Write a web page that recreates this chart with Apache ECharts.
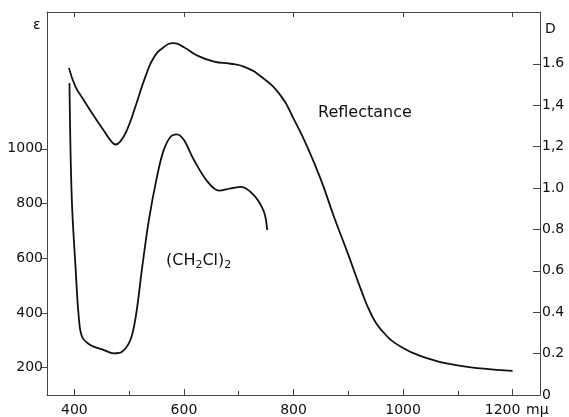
<!DOCTYPE html>
<html>
<head>
<meta charset="utf-8">
<script src="https://cdn.jsdelivr.net/npm/echarts@6/dist/echarts.min.js"></script>
<style>
  html, body { margin: 0; padding: 0; background: #fff; }
  #chart { width: 569px; height: 417px; }
</style>
</head>
<body>
<div id="chart"></div>
<script>
  // wavelength in mu, reflectance as optical density D (right axis)
  var reflWave = [390, 402, 417, 435, 453, 466, 475, 484, 496, 511, 530, 545, 563, 581, 600, 624, 655, 685, 710, 740,
                  777, 801, 825, 850, 874, 899, 923, 941, 960, 996, 1045, 1094, 1142, 1200];
  var reflD = [1.58, 1.49, 1.425, 1.35, 1.28, 1.23, 1.21, 1.225, 1.28, 1.39, 1.54, 1.63, 1.68, 1.70, 1.68, 1.64, 1.61, 1.60, 1.585, 1.54,
               1.445, 1.33, 1.20, 1.04, 0.86, 0.685, 0.51, 0.395, 0.315, 0.233, 0.177, 0.145, 0.129, 0.117];

  // (CH2Cl)2 solution, extinction coefficient (left axis)
  var soluWave = [391, 393, 396, 402, 408, 414, 429, 454, 472, 487, 502, 512, 524, 536, 551, 563, 576, 587, 600, 618,
                  643, 664, 685, 704, 728, 746, 752];
  var soluEps = [1240, 985, 780, 570, 385, 313, 283, 264, 252, 258, 300, 386, 570, 740, 900, 995, 1045, 1053, 1032, 960,
                 880, 847, 855, 861, 830, 770, 703];

  var xMajor = [400, 600, 800, 1000, 1200];
  var xMinor = [500, 700, 900, 1100];
  var epsTicks = [200, 400, 600, 800, 1000];
  var dTicks = [0, 0.2, 0.4, 0.6, 0.8, 1.0, 1.2, 1.4, 1.6];
  var dLabels = ['0', '0.2', '0.4', '0.6', '0.8', '1.0', '1,2', '1,4', '1.6'];

  function pairs(xs, ys) {
    return xs.map(function (x, i) { return [x, ys[i]]; });
  }

  var FONT = 'DejaVu Sans';
  var INK = '#111';
  var FRAME = '#444';

  var chart = echarts.init(document.getElementById('chart'));

  chart.setOption({
    animation: false,
    backgroundColor: '#fff',
    textStyle: { fontFamily: FONT, color: INK },
    grid: { left: 47, right: 29, top: 12, bottom: 22, outerBoundsMode: 'none' },
    xAxis: [
      {
        type: 'value', position: 'bottom', min: 350, max: 1250,
        splitLine: { show: false },
        axisLine: { lineStyle: { color: FRAME, width: 1 } },
        axisTick: { inside: true, length: 6, customValues: xMajor, lineStyle: { color: FRAME } },
        axisLabel: {
          customValues: xMajor, margin: 8, fontSize: 14, color: INK, fontFamily: FONT,
          formatter: function (v) { return v === 1200 ? '{s|1200}' : String(v); },
          rich: { s: { fontSize: 14, fontFamily: FONT, color: INK, padding: [0, 20, 0, 0] } }
        }
      },
      {
        type: 'value', position: 'bottom', min: 350, max: 1250,
        splitLine: { show: false },
        axisLine: { show: false },
        axisTick: { inside: true, length: 4, customValues: xMinor, lineStyle: { color: FRAME } },
        axisLabel: { show: false }
      },
      {
        type: 'value', position: 'top', min: 350, max: 1250,
        splitLine: { show: false },
        axisLine: { lineStyle: { color: FRAME, width: 1 } },
        axisTick: { inside: true, length: 5, customValues: xMajor, lineStyle: { color: FRAME } },
        axisLabel: { show: false }
      }
    ],
    yAxis: [
      {
        type: 'value', position: 'left', min: 100, max: 1500,
        splitLine: { show: false },
        axisLine: { show: true, lineStyle: { color: FRAME, width: 1 } },
        axisTick: { show: true, length: 6, customValues: epsTicks, lineStyle: { color: FRAME } },
        axisLabel: {
          customValues: epsTicks, margin: 4, fontSize: 14, color: INK, fontFamily: FONT,
          formatter: function (v) { return String(v); }
        }
      },
      {
        type: 'value', position: 'right', min: 0, max: 1.85,
        splitLine: { show: false },
        axisLine: { show: true, lineStyle: { color: FRAME, width: 1 } },
        axisTick: { show: true, inside: true, length: 7, customValues: dTicks, lineStyle: { color: FRAME } },
        axisLabel: {
          customValues: dTicks, margin: 2, fontSize: 14, color: INK, fontFamily: FONT,
          formatter: function (v) {
            var i = dTicks.findIndex(function (t) { return Math.abs(t - v) < 1e-6; });
            return i >= 0 ? dLabels[i] : '';
          }
        }
      }
    ],
    series: [
      {
        name: 'Reflectance', type: 'line', xAxisIndex: 0, yAxisIndex: 1,
        data: pairs(reflWave, reflD), smooth: 0.5, showSymbol: false,
        lineStyle: { color: INK, width: 1.8 }
      },
      {
        name: '(CH2Cl)2', type: 'line', xAxisIndex: 0, yAxisIndex: 0,
        data: pairs(soluWave, soluEps), smooth: 0.35, showSymbol: false,
        lineStyle: { color: INK, width: 1.8 }
      }
    ],
    graphic: [
      { type: 'text', left: 33, top: 18, style: { text: 'ε', font: '14px ' + FONT, fill: INK } },
      { type: 'text', left: 545, top: 22, style: { text: 'D', font: '14px ' + FONT, fill: INK } },
      { type: 'text', left: 526, top: 403, style: { text: 'mμ', font: '14px ' + FONT, fill: INK } },
      { type: 'text', left: 318, top: 105, style: { text: 'Reflectance', font: '16px ' + FONT, fill: INK } },
      {
        type: 'text', left: 166, top: 253,
        style: {
          text: '(CH{sub|2}Cl){sub|2}', font: '16px ' + FONT, fill: INK,
          rich: { sub: { fontSize: 11, fontFamily: FONT, fill: INK, verticalAlign: 'bottom', padding: [8, 0, 0, 0] } }
        }
      }
    ]
  });
</script>
</body>
</html>
